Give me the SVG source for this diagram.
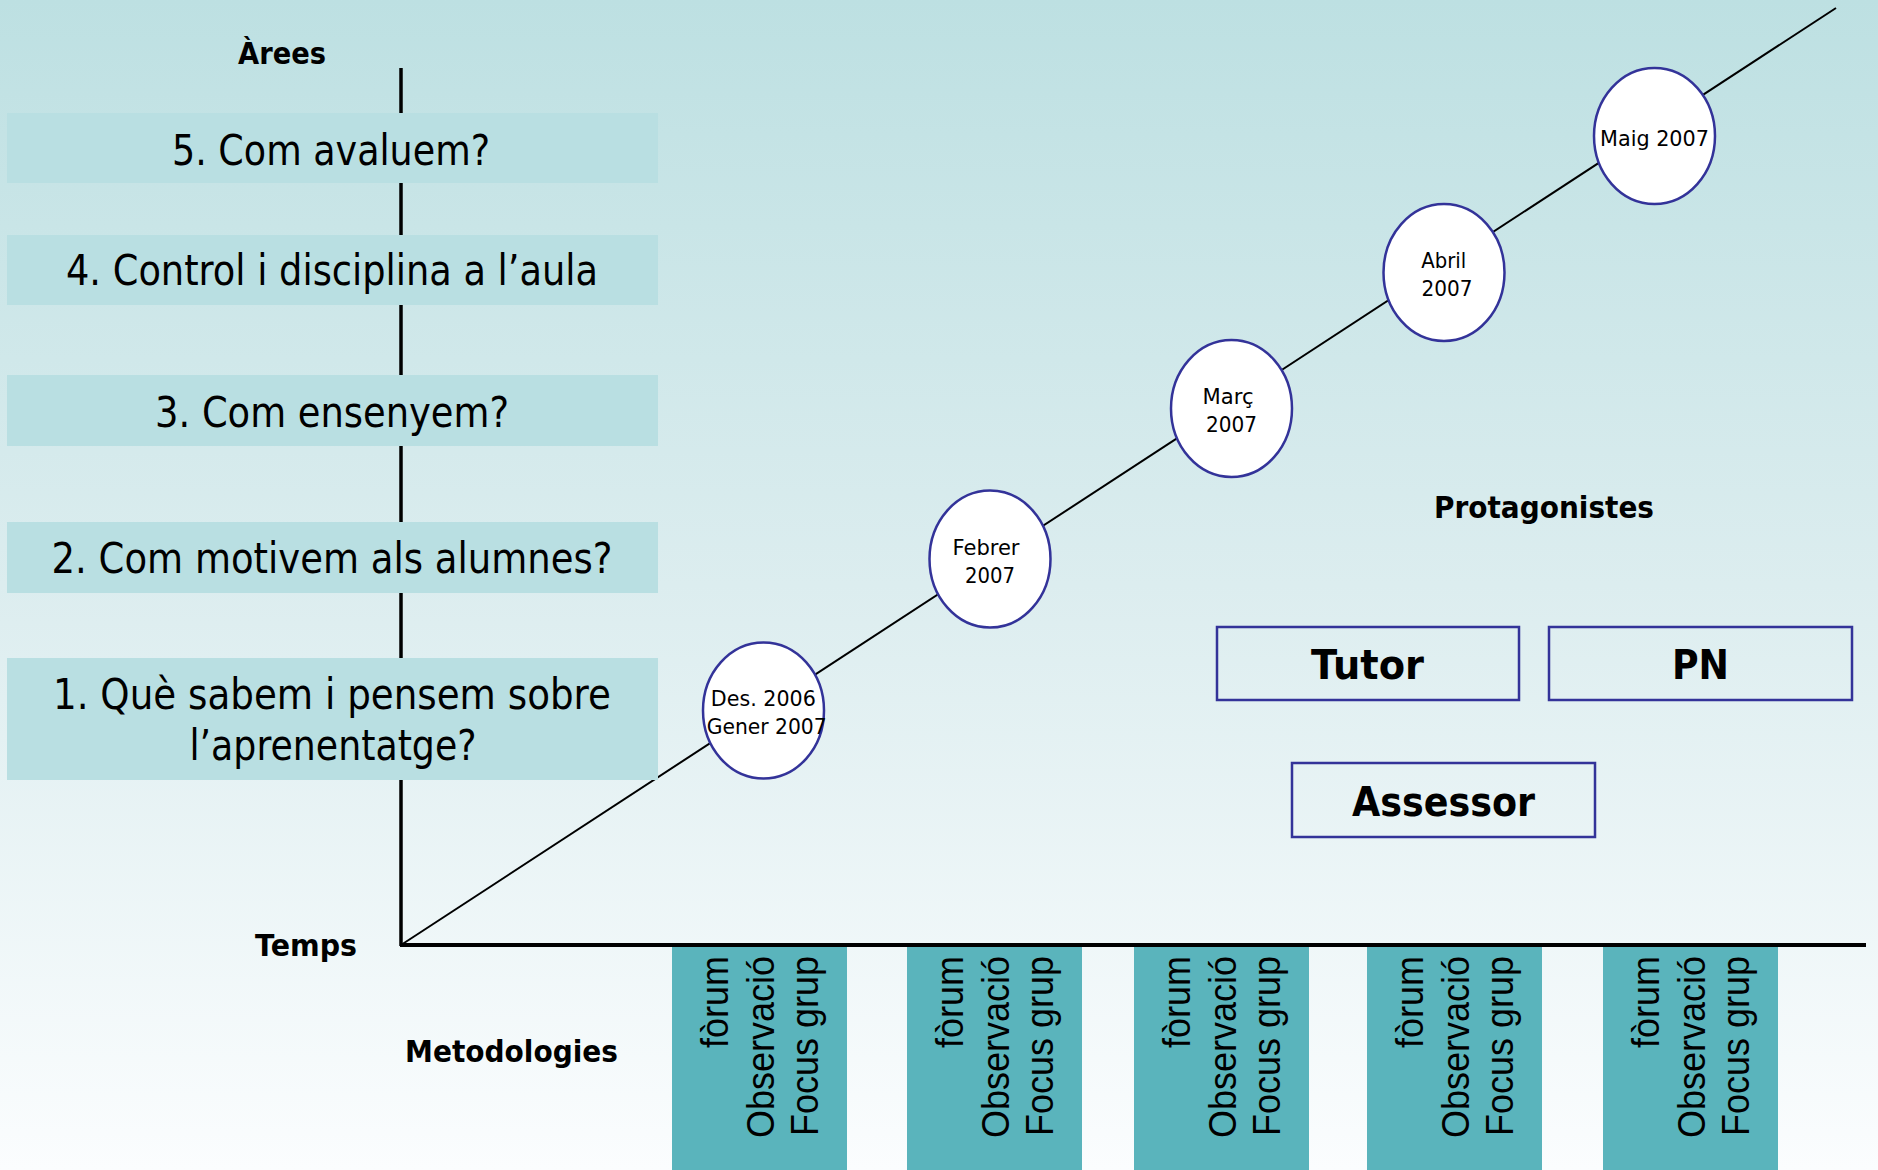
<svg xmlns="http://www.w3.org/2000/svg" width="1878" height="1170" viewBox="0 0 1878 1170">
  <defs>
    <linearGradient id="bg" x1="0" y1="0" x2="0" y2="1">
      <stop offset="0" stop-color="#BDE0E2"/>
      <stop offset="0.5" stop-color="#DCEDEF"/>
      <stop offset="1" stop-color="#FBFDFE"/>
    </linearGradient>
    <style>
      .area { fill: #B9DFE2; }
      .at { font-family: "DejaVu Sans", Verdana, sans-serif; font-size: 42px; fill: #000; text-anchor: middle; }
      .lbl { font-family: "DejaVu Sans", Verdana, sans-serif; font-weight: bold; font-size: 30px; fill: #000; }
      .date ellipse { fill: #FFFFFF; stroke: #333399; stroke-width: 2.5; }
      .dt { font-family: "DejaVu Sans", Verdana, sans-serif; font-size: 22px; fill: #000; text-anchor: middle; }
      .prot rect { fill: none; stroke: #333399; stroke-width: 2.5; }
      .pt { font-family: "DejaVu Sans", Verdana, sans-serif; font-weight: bold; font-size: 41px; fill: #000; text-anchor: middle; }
      .met rect { fill: #5AB4BC; }
      .mt { font-family: "Liberation Sans", Arial, sans-serif; font-size: 36px; fill: #000; text-anchor: end; }
      .axis { stroke: #000; fill: none; }
    </style>
  </defs>

  <rect x="0" y="0" width="1878" height="1170" fill="url(#bg)"/>

  <!-- connectors / axes -->
  <g id="connectors">
    <line class="axis" x1="401" y1="68" x2="401" y2="946" stroke-width="3.5"/>
    <line class="axis" x1="400" y1="945" x2="1866" y2="945" stroke-width="4"/>
    <line class="axis" x1="401" y1="945" x2="1836" y2="8" stroke-width="2"/>
  </g>

  <!-- labels -->
  <g id="label-arees"><text class="lbl" x="238" y="64" textLength="88" lengthAdjust="spacingAndGlyphs">Àrees</text></g>
  <g id="label-temps"><text class="lbl" x="255" y="956" textLength="102" lengthAdjust="spacingAndGlyphs">Temps</text></g>
  <g id="label-metodologies"><text class="lbl" x="405" y="1062" textLength="213" lengthAdjust="spacingAndGlyphs">Metodologies</text></g>
  <g id="label-protagonistes"><text class="lbl" x="1434" y="518" textLength="220" lengthAdjust="spacingAndGlyphs">Protagonistes</text></g>

  <!-- areas -->
  <g id="area5">
    <rect class="area" x="7" y="113" width="651" height="70"/>
    <text class="at" x="331" y="165" textLength="318" lengthAdjust="spacingAndGlyphs">5. Com avaluem?</text>
  </g>
  <g id="area4">
    <rect class="area" x="7" y="235" width="651" height="70"/>
    <text class="at" x="332" y="285" textLength="532" lengthAdjust="spacingAndGlyphs">4. Control i disciplina a l’aula</text>
  </g>
  <g id="area3">
    <rect class="area" x="7" y="375" width="651" height="71"/>
    <text class="at" x="332" y="427" textLength="354" lengthAdjust="spacingAndGlyphs">3. Com ensenyem?</text>
  </g>
  <g id="area2">
    <rect class="area" x="7" y="522" width="651" height="71"/>
    <text class="at" x="332" y="573" textLength="561" lengthAdjust="spacingAndGlyphs">2. Com motivem als alumnes?</text>
  </g>
  <g id="area1">
    <rect class="area" x="7" y="658" width="651" height="122"/>
    <text class="at" x="332" y="709" textLength="558" lengthAdjust="spacingAndGlyphs">1. Què sabem i pensem sobre</text>
    <text class="at" x="333" y="760" textLength="287" lengthAdjust="spacingAndGlyphs">l’aprenentatge?</text>
  </g>

  <!-- dates -->
  <g id="date1" class="date">
    <ellipse cx="763.5" cy="710.5" rx="60.5" ry="68"/>
    <text class="dt" x="763.3" y="706" textLength="105" lengthAdjust="spacingAndGlyphs">Des. 2006</text>
    <text class="dt" x="766.7" y="734" textLength="120" lengthAdjust="spacingAndGlyphs">Gener 2007</text>
  </g>
  <g id="date2" class="date">
    <ellipse cx="990" cy="559" rx="60.5" ry="68.5"/>
    <text class="dt" x="986" y="554.5" textLength="67" lengthAdjust="spacingAndGlyphs">Febrer</text>
    <text class="dt" x="990" y="582.5" textLength="50" lengthAdjust="spacingAndGlyphs">2007</text>
  </g>
  <g id="date3" class="date">
    <ellipse cx="1231.5" cy="408.5" rx="60.5" ry="68.5"/>
    <text class="dt" x="1228" y="404" textLength="51" lengthAdjust="spacingAndGlyphs">Març</text>
    <text class="dt" x="1231.6" y="432" textLength="51" lengthAdjust="spacingAndGlyphs">2007</text>
  </g>
  <g id="date4" class="date">
    <ellipse cx="1444" cy="272.5" rx="60.5" ry="68.5"/>
    <text class="dt" x="1443.7" y="268" textLength="45" lengthAdjust="spacingAndGlyphs">Abril</text>
    <text class="dt" x="1447" y="296" textLength="51" lengthAdjust="spacingAndGlyphs">2007</text>
  </g>
  <g id="date5" class="date">
    <ellipse cx="1654.5" cy="136" rx="60.5" ry="68"/>
    <text class="dt" x="1654.5" y="145.7" textLength="109" lengthAdjust="spacingAndGlyphs">Maig 2007</text>
  </g>

  <!-- protagonistes -->
  <g id="tutor" class="prot">
    <rect x="1217" y="627" width="302" height="73"/>
    <text class="pt" x="1367.5" y="679" textLength="113" lengthAdjust="spacingAndGlyphs">Tutor</text>
  </g>
  <g id="pn" class="prot">
    <rect x="1549" y="627" width="303" height="73"/>
    <text class="pt" x="1700.5" y="679" textLength="57" lengthAdjust="spacingAndGlyphs">PN</text>
  </g>
  <g id="assessor" class="prot">
    <rect x="1292" y="763" width="303" height="74"/>
    <text class="pt" x="1443.6" y="816" textLength="183" lengthAdjust="spacingAndGlyphs">Assessor</text>
  </g>

  <!-- metodologies -->
  <g id="met1" class="met">
    <rect x="672" y="947" width="175" height="223"/>
    <text class="mt" transform="translate(728,956) rotate(-90) scale(1,1.08)">fòrum</text>
    <text class="mt" transform="translate(773.5,956) rotate(-90) scale(1,1.08)">Observació</text>
    <text class="mt" transform="translate(817.5,956) rotate(-90) scale(1,1.08)">Focus grup</text>
  </g>
  <g id="met2" class="met">
    <rect x="907" y="947" width="175" height="223"/>
    <text class="mt" transform="translate(963,956) rotate(-90) scale(1,1.08)">fòrum</text>
    <text class="mt" transform="translate(1008.5,956) rotate(-90) scale(1,1.08)">Observació</text>
    <text class="mt" transform="translate(1052.5,956) rotate(-90) scale(1,1.08)">Focus grup</text>
  </g>
  <g id="met3" class="met">
    <rect x="1134" y="947" width="175" height="223"/>
    <text class="mt" transform="translate(1190,956) rotate(-90) scale(1,1.08)">fòrum</text>
    <text class="mt" transform="translate(1235.5,956) rotate(-90) scale(1,1.08)">Observació</text>
    <text class="mt" transform="translate(1279.5,956) rotate(-90) scale(1,1.08)">Focus grup</text>
  </g>
  <g id="met4" class="met">
    <rect x="1367" y="947" width="175" height="223"/>
    <text class="mt" transform="translate(1423,956) rotate(-90) scale(1,1.08)">fòrum</text>
    <text class="mt" transform="translate(1468.5,956) rotate(-90) scale(1,1.08)">Observació</text>
    <text class="mt" transform="translate(1512.5,956) rotate(-90) scale(1,1.08)">Focus grup</text>
  </g>
  <g id="met5" class="met">
    <rect x="1603" y="947" width="175" height="223"/>
    <text class="mt" transform="translate(1659,956) rotate(-90) scale(1,1.08)">fòrum</text>
    <text class="mt" transform="translate(1704.5,956) rotate(-90) scale(1,1.08)">Observació</text>
    <text class="mt" transform="translate(1748.5,956) rotate(-90) scale(1,1.08)">Focus grup</text>
  </g>
</svg>
